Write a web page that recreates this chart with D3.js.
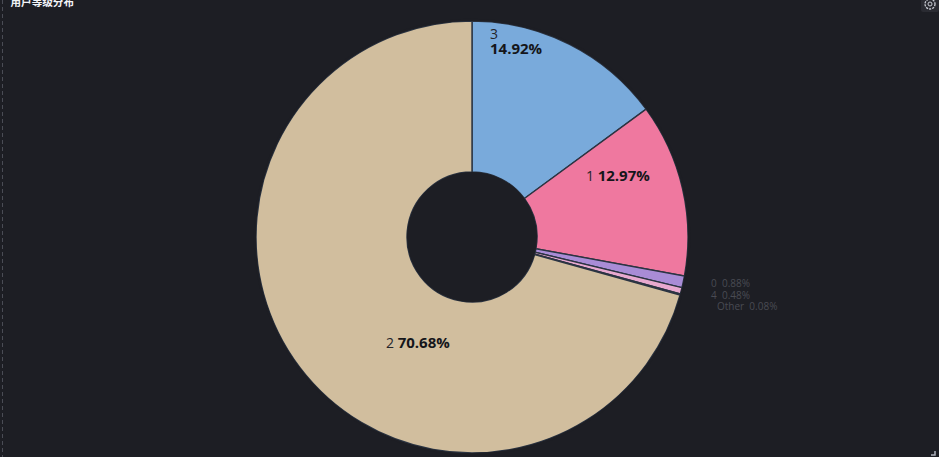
<!DOCTYPE html>
<html><head><meta charset="utf-8">
<script src="https://cdn.jsdelivr.net/npm/d3@7/dist/d3.min.js"></script>
<style>html,body{margin:0;padding:0;background:#1d1e24;overflow:hidden}svg{display:block}</style>
</head><body><svg id="c" width="939" height="457"></svg>
<script>
const categories = ["3","1","0","4","Other","2"];
const values = [14.92,12.97,0.88,0.48,0.08,70.68];
const colors = ["#79aadb","#ef789f","#a98cd6","#e8a9cf","#d9b8a0","#d1be9e"];
const valueLabels = ["14.92%","12.97%","0.88%","0.48%","0.08%","70.68%"];
const title = "用户等级分布";

const svg = d3.select("#c");
const W = 939, H = 457, cx = 472, cy = 237, R = 216, r0 = 65;
const font = "'Open Sans','Noto Sans','Noto Sans CJK SC',sans-serif";

svg.append("rect").attr("width",W).attr("height",H).attr("fill","#1d1e24");
svg.append("line").attr("x1",2.5).attr("x2",2.5).attr("y1",0).attr("y2",H)
  .attr("stroke","#4a4c55").attr("stroke-dasharray","4 3");

svg.append("text").attr("x",10.5).attr("y",5.5).attr("fill","#f2f4f8")
  .attr("font-family","'Noto Sans CJK SC',sans-serif").attr("font-size",10.6).attr("font-weight",700).text(title);

const pie = d3.pie().sort(null).value(d=>d)(values);
const arc = d3.arc().innerRadius(r0).outerRadius(R);
const g = svg.append("g").attr("transform",`translate(${cx},${cy})`);
g.selectAll("path").data(pie).join("path").attr("d",arc)
  .attr("fill",(d,i)=>colors[i]).attr("stroke","#2b3442").attr("stroke-width",1.4);
g.append("circle").attr("r",r0).attr("fill","#1d1e24");
g.append("circle").attr("r",R+1.2).attr("fill","none").attr("stroke","#1d1e24").attr("stroke-width",2.2);

function label(x,y){
  return svg.append("text").attr("x",x).attr("y",y).attr("font-family",font)
    .attr("font-size",14).attr("fill","#24252a");
}
function bold(t,s){ return t.append("tspan").attr("font-weight",700).attr("font-size",15).attr("fill","#15161a").text(s); }

label(490,39).text(categories[0]);
bold(label(490,54),valueLabels[0]);
const l1 = label(586,181); l1.append("tspan").text(categories[1]+" "); bold(l1,valueLabels[1]);
const l5 = label(386,348); l5.append("tspan").text(categories[5]+" "); bold(l5,valueLabels[5]);

[[2,711,287],[3,711,298.5],[4,717,310]].forEach(([i,x,y])=>{
  svg.append("text").attr("x",x).attr("y",y).attr("font-family",font).attr("font-size",10)
    .attr("fill","#494b53").attr("xml:space","preserve").text(categories[i]+"  "+valueLabels[i]);
});

svg.append("rect").attr("x",921).attr("y",-1).attr("width",18).attr("height",13).attr("rx",2).attr("fill","#2a2b32");
const ic = svg.append("g").attr("transform","translate(930,4)");
ic.append("circle").attr("r",5).attr("fill","none").attr("stroke","#c9ccd4").attr("stroke-width",1.3).attr("stroke-dasharray","2.2 1");
ic.append("circle").attr("r",2).attr("fill","none").attr("stroke","#c9ccd4").attr("stroke-width",1);
svg.append("path").attr("d","M935 451V455H931").attr("fill","none").attr("stroke","#aeb2bc").attr("stroke-width",1.5);
</script></body></html>
